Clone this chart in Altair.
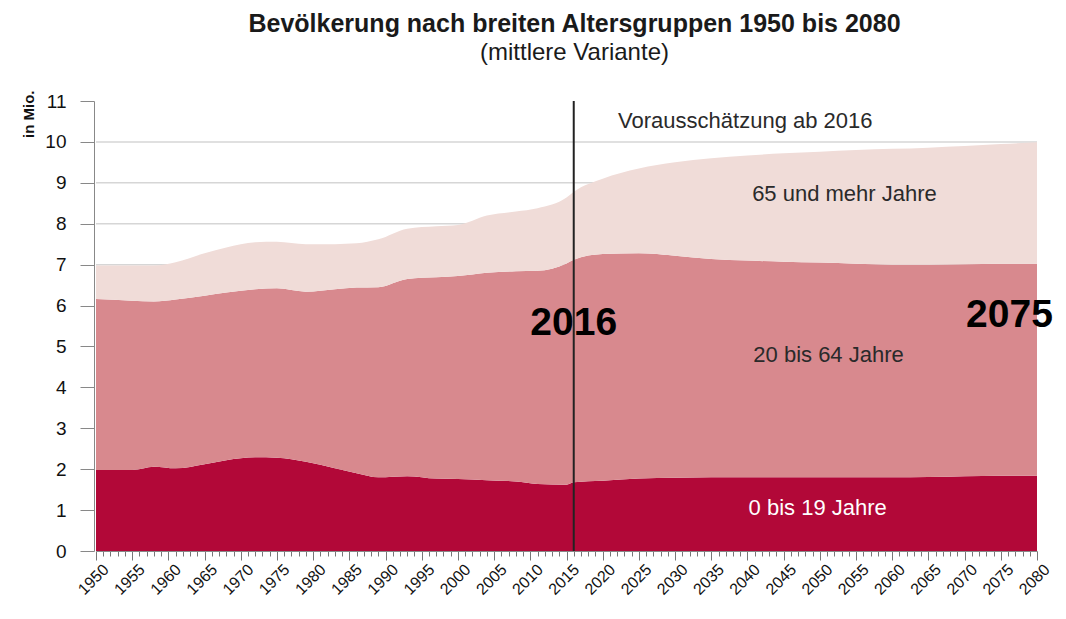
import altair as alt
import pandas as pd

# ---------------- data (in millions) ----------------
YEARS = [1950, 1955, 1958, 1961, 1965, 1968, 1972, 1975, 1979, 1983, 1986, 1989,
         1993, 1997, 2000, 2004, 2008, 2011, 2015, 2016, 2020, 2025, 2030, 2035,
         2040, 2045, 2050, 2055, 2060, 2065, 2070, 2075, 2080]
AGE_0_19 = [1.98, 1.98, 2.06, 2.02, 2.12, 2.22, 2.29, 2.28, 2.18, 2.02, 1.90, 1.80,
            1.83, 1.77, 1.76, 1.73, 1.70, 1.64, 1.62, 1.68, 1.72, 1.77, 1.79, 1.80,
            1.80, 1.80, 1.80, 1.80, 1.80, 1.81, 1.83, 1.84, 1.84]
AGE_20_64 = [4.18, 4.14, 4.04, 4.13, 4.12, 4.10, 4.11, 4.14, 4.16, 4.38, 4.54, 4.65,
             4.82, 4.92, 4.96, 5.07, 5.14, 5.21, 5.41, 5.44, 5.54, 5.51, 5.43, 5.34,
             5.30, 5.27, 5.25, 5.22, 5.20, 5.19, 5.18, 5.18, 5.18]
AGE_65_PLUS = [0.82, 0.86, 0.88, 0.91, 1.04, 1.10, 1.15, 1.14, 1.16, 1.10, 1.08, 1.17,
               1.23, 1.25, 1.25, 1.40, 1.46, 1.53, 1.61, 1.66, 1.84, 2.07, 2.28, 2.46,
               2.57, 2.65, 2.71, 2.78, 2.83, 2.86, 2.89, 2.93, 2.97]

GROUPS = ["0 bis 19 Jahre", "20 bis 64 Jahre", "65 und mehr Jahre"]
COLORS = ["#B20838", "#D8898E", "#F0DCD8"]

Y_TICKS = list(range(0, 12))
GRID_LEVELS = list(range(1, 11))
X_TICKS = list(range(1950, 2081))
FORECAST_YEAR = [2016]

ANNOT_TEXT = ["Vorausschätzung ab 2016", "65 und mehr Jahre", "20 bis 64 Jahre"]
ANNOT_YEAR = [2039.7, 2053.4, 2051.2]
ANNOT_VALUE = [10.5, 8.73, 4.8]

WHITE_TEXT = ["0 bis 19 Jahre"]
WHITE_YEAR = [2049.7]
WHITE_VALUE = [1.05]

BIG_TEXT = ["2016", "2075"]
BIG_YEAR = [2016.0, 2076.2]
BIG_VALUE = [5.58, 5.76]

# ---------------- tables ----------------
rows = []
for series, name, order in ((AGE_0_19, GROUPS[0], 0), (AGE_20_64, GROUPS[1], 1),
                            (AGE_65_PLUS, GROUPS[2], 2)):
    for yr, v in zip(YEARS, series):
        rows.append({"year": yr, "value": v, "group": name, "order": order})
df = pd.DataFrame(rows)

grid_df = pd.DataFrame({"value": GRID_LEVELS})
vline_df = pd.DataFrame({"year": FORECAST_YEAR})
annot_df = pd.DataFrame({"text": ANNOT_TEXT, "year": ANNOT_YEAR, "value": ANNOT_VALUE})
white_df = pd.DataFrame({"text": WHITE_TEXT, "year": WHITE_YEAR, "value": WHITE_VALUE})
big_df = pd.DataFrame({"text": BIG_TEXT, "year": BIG_YEAR, "value": BIG_VALUE})

FONT = "Liberation Sans"
x_scale = alt.Scale(domain=[1950, 2080], nice=False, zero=False)
y_scale = alt.Scale(domain=[0, 11], nice=False)

x_axis = alt.Axis(
    values=X_TICKS, format="d", title=None,
    labelExpr="datum.value % 5 === 0 ? datum.label : ''",
    labelAngle=-45, labelAlign="right", labelBaseline="top",
    labelFontSize=16, labelColor="#111111", labelPadding=1, labelOffset=4,
    labelOverlap=False, labelBound=False, labelFlush=False,
    tickSize={"condition": {"test": "datum.value % 5 === 0", "value": 9}, "value": 5},
    tickColor="#777777", tickWidth=1,
    domainColor="#888888", grid=False,
)
y_axis = alt.Axis(
    values=Y_TICKS, format="d", title="in Mio.",
    titleAngle=270, titleAlign="right", titleBaseline="middle",
    titleX=-66, titleY=-11, titleFontSize=15, titleFontWeight="bold", titleColor="#111111",
    labelFontSize=19, labelColor="#111111", labelPadding=14,
    tickSize=14, tickColor="#888888", domainColor="#888888", grid=False, offset=2,
)


def X(field="year:Q"):
    return alt.X(field, scale=x_scale, axis=x_axis)


def Y(field="value:Q", **kw):
    return alt.Y(field, scale=y_scale, axis=y_axis, **kw)


grid = alt.Chart(grid_df).mark_rule(color="#d6d6d6", strokeWidth=1.5).encode(
    y=Y("value:Q")
)

area = alt.Chart(df).mark_area(interpolate="monotone").encode(
    x=X(),
    y=Y("value:Q", stack="zero"),
    color=alt.Color("group:N", scale=alt.Scale(domain=GROUPS, range=COLORS), legend=None),
    order=alt.Order("order:Q", sort="ascending"),
)

vline = alt.Chart(vline_df).mark_rule(color="#222222", strokeWidth=2).encode(x=X())

annot = alt.Chart(annot_df).mark_text(
    font=FONT, fontSize=22, color="#2a2a2a", align="center", baseline="middle"
).encode(x=X(), y=Y(), text="text:N")

white = alt.Chart(white_df).mark_text(
    font=FONT, fontSize=22, color="#ffffff", align="center", baseline="middle"
).encode(x=X(), y=Y(), text="text:N")

big = alt.Chart(big_df).mark_text(
    font=FONT, fontSize=39, fontWeight="bold", color="#000000", align="center", baseline="middle"
).encode(x=X(), y=Y(), text="text:N")

chart = alt.layer(grid, area, vline, annot, white, big).properties(
    width=941,
    height=450,
    autosize=alt.AutoSizeParams(type="none"),
    padding={"left": 88, "top": 93, "right": 20, "bottom": 58},
    title=alt.TitleParams(
        text="Bevölkerung nach breiten Altersgruppen 1950 bis 2080",
        subtitle="(mittlere Variante)",
        font=FONT, fontSize=25, fontWeight="bold", color="#1a1a1a",
        subtitleFont=FONT, subtitleFontSize=24, subtitleColor="#1a1a1a",
        subtitlePadding=4, anchor="middle", frame="group", offset=25, dx=8,
    ),
).configure(font=FONT).configure_view(stroke=None)

chart.save("out.html", embed_options={"renderer": "svg", "actions": False})
